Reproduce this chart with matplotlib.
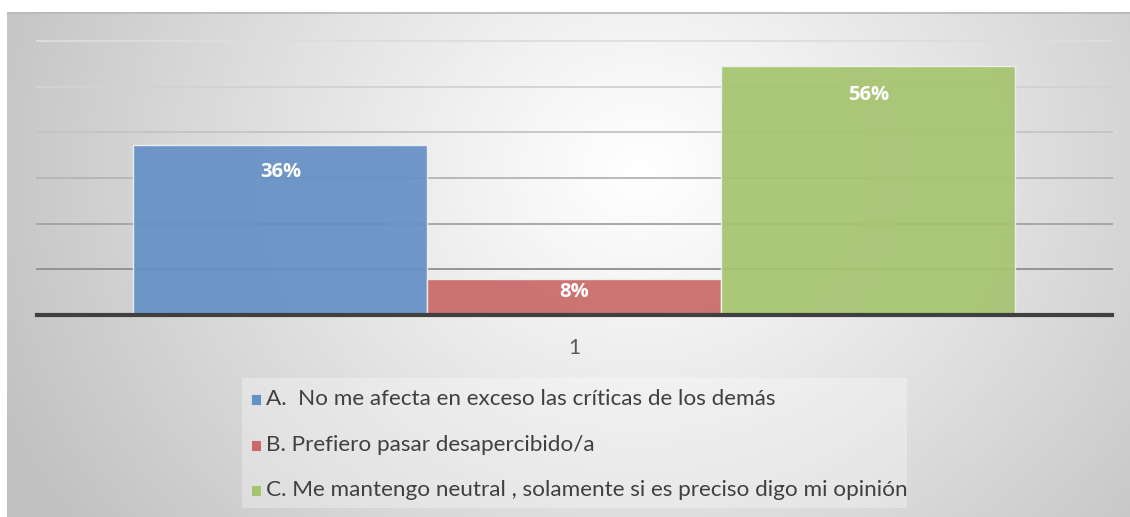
import numpy as np
import matplotlib
matplotlib.use("Agg")
import matplotlib.pyplot as plt
from matplotlib.patches import Rectangle

# ---- data ----
category = "1"
series_names = [
    "A.  No me afecta en exceso las críticas de los demás",
    "B. Prefiero pasar desapercibido/a",
    "C. Me mantengo neutral , solamente si es preciso digo mi opinión",
]
bar_heights = [0.372, 0.079, 0.545]
bar_labels = ["36%", "8%", "56%"]
colors = ["#6591C6", "#C96A68", "#A6C46F"]
grid_values = [0.1, 0.2, 0.3, 0.4, 0.5, 0.6]

W, H = 1130, 517
fig = plt.figure(figsize=(W / 100, H / 100), dpi=100, facecolor="white")
FONT = ["Lato", "DejaVu Sans"]


def fx(px):
    return px / W


def fy(py):
    return 1 - py / H


# ---- background with radial gradient ----
bg = fig.add_axes([fx(7), 0, fx(W - 7), 1 - 12 / H])
bg.set_axis_off()
bw, bh = W - 7, H - 12
xx, yy = np.meshgrid(np.arange(bw) + 7, np.arange(bh) + 12)
t = np.sqrt(((xx - 640) / 700) ** 2 + ((yy - 170) / 620) ** 2)
t = np.clip(t, 0, 1) ** 1.1
g = (255 - 62 * t) / 255
img = np.dstack([g, g, g])
bg.imshow(img, aspect="auto", extent=[0, 1, 0, 1], origin="upper")
bg.set_xlim(0, 1)
bg.set_ylim(0, 1)
bg.plot([0, 1], [0.999, 0.999], color="#b8b8b8", lw=1.2, transform=bg.transAxes)

# ---- main axes ----
ax = fig.add_axes([fx(37), fy(315), fx(1112 - 37), (315 - 41) / H])
ax.set_facecolor("none")
ax.set_ylim(0, 0.6)
bar_w_px = 294
half = (1112 - 37) / 2 / bar_w_px
ax.set_xlim(-half, half)
for s in ax.spines.values():
    s.set_visible(False)
ax.set_xticks([])
ax.set_yticks([])

grid_colors = ["#8e8e8e", "#a2a2a2", "#b4b4b4", "#c4c4c4", "#d2d2d2", "#dddddd"]
for v, c in zip(grid_values, grid_colors):
    ax.axhline(v, color=c, lw=1.3, zorder=1, clip_on=False)

xs = np.arange(len(bar_heights)) - 1
bars = ax.bar(xs, bar_heights, width=1.0, color=colors, alpha=0.93,
              edgecolor="#eef2f6", linewidth=1.0, zorder=2)

label_offsets = [-27, -13, -29]
for b, lab, off in zip(bars, bar_labels, label_offsets):
    ax.annotate(lab, (b.get_x() + b.get_width() / 2, b.get_height()),
                xytext=(0, off * 0.72), textcoords="offset points",
                ha="center", va="center", color="white", fontsize=14.5,
                fontweight="bold", family=["Open Sans", "DejaVu Sans"], zorder=4)

ax.axhline(0, color="#404040", lw=3.0, zorder=3, clip_on=False)

# category label
fig.text(fx(574), fy(348), category, ha="center", va="center",
         fontsize=15, color="#595959", family=FONT)

# ---- legend ----
leg_bg = Rectangle((fx(242), fy(508)), fx(907 - 242), (508 - 378) / H,
                   transform=fig.transFigure, facecolor="white", alpha=0.3,
                   edgecolor="none")
fig.add_artist(leg_bg)
leg_y = [399, 445, 490]
for name, col, y in zip(series_names, colors, leg_y):
    sq = Rectangle((fx(251), fy(y + 6)), fx(10), 11 / H, transform=fig.transFigure,
                   facecolor=col, edgecolor="#e0e6ee", lw=0.6)
    fig.add_artist(sq)
    fig.text(fx(266), fy(y), name, ha="left", va="center", fontsize=16.2,
             color="#404040", family=FONT)

fig.savefig("out.png", dpi=100, facecolor="white")
